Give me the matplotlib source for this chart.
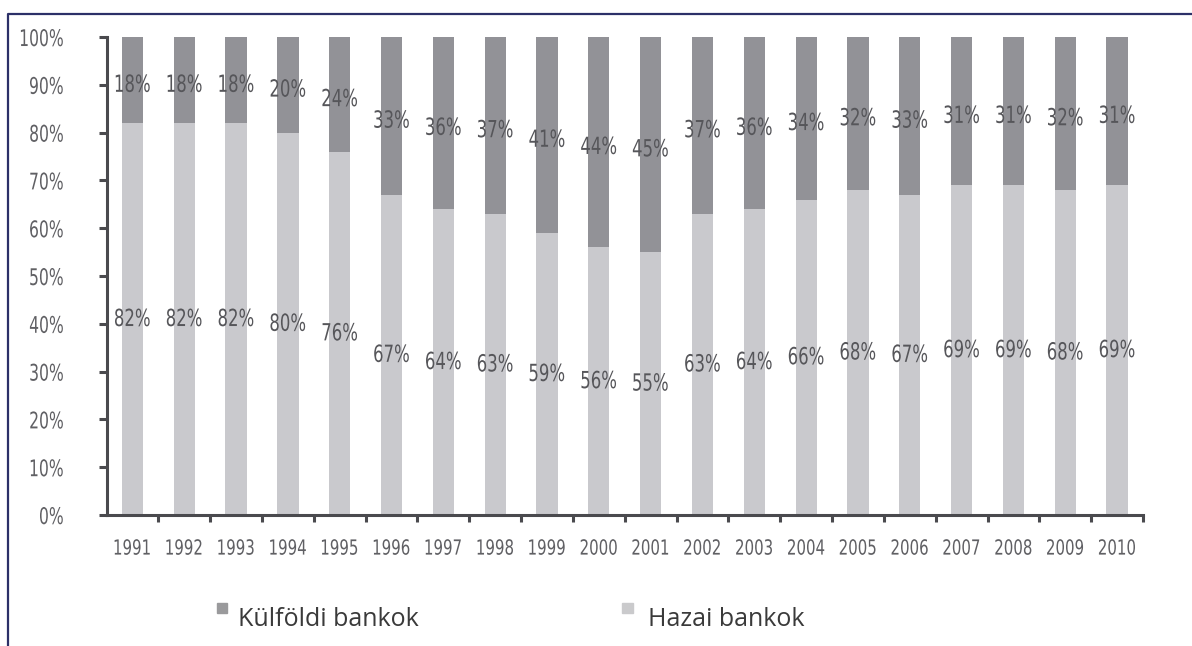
import matplotlib.pyplot as plt
from matplotlib.patches import Rectangle
from matplotlib.patheffects import AbstractPathEffect
from matplotlib.transforms import Affine2D

years = ['1991', '1992', '1993', '1994', '1995', '1996', '1997', '1998', '1999', '2000',
         '2001', '2002', '2003', '2004', '2005', '2006', '2007', '2008', '2009', '2010']
kulfoldi = [18, 18, 18, 20, 24, 33, 36, 37, 41, 44, 45, 37, 36, 34, 32, 33, 31, 31, 32, 31]
hazai = [82, 82, 82, 80, 76, 67, 64, 63, 59, 56, 55, 63, 64, 66, 68, 67, 69, 69, 68, 69]
y_ticks = [0, 10, 20, 30, 40, 50, 60, 70, 80, 90, 100]

dark = '#929297'
light = '#c9c9cd'
label_col = '#56565a'
tick_col = '#606064'


class Squeeze(AbstractPathEffect):
    """Narrows the glyphs horizontally to get a condensed look."""

    def __init__(self, sx, anchor='center'):
        super().__init__()
        self.sx = sx
        self.anchor = anchor

    def draw_path(self, renderer, gc, tpath, affine, rgbFace=None):
        if len(tpath.vertices):
            xs = affine.transform(tpath.vertices)[:, 0]
            if self.anchor == 'right':
                cx = xs.max()
            else:
                cx = (xs.min() + xs.max()) / 2
            affine = affine + Affine2D().translate(-cx, 0).scale(self.sx, 1).translate(cx, 0)
        renderer.draw_path(gc, tpath, affine, rgbFace)


fig = plt.figure(figsize=(11.92, 6.46), dpi=100)
ax = fig.add_axes([0.0898, 0.2028, 0.8691, 0.7399])

x = list(range(len(years)))
ax.bar(x, hazai, width=0.41, color=light, zorder=2)
ax.bar(x, kulfoldi, width=0.41, bottom=hazai, color=dark, zorder=2)

# value labels in the middle of each segment
for i in x:
    ax.text(i, hazai[i] / 2, f'{hazai[i]}%', ha='center', va='center',
            fontsize=17, color=label_col, zorder=3, path_effects=[Squeeze(0.7)])
    ax.text(i, hazai[i] + kulfoldi[i] / 2 - 1, f'{kulfoldi[i]}%', ha='center', va='center',
            fontsize=17, color=label_col, zorder=3, path_effects=[Squeeze(0.7)])

ax.set_xlim(-0.49, 19.5)
ax.set_ylim(0, 100)

for s in ['top', 'right']:
    ax.spines[s].set_visible(False)
for s in ['left', 'bottom']:
    ax.spines[s].set_color('#4a4a4e')
    ax.spines[s].set_linewidth(2.2)

ax.set_yticks(y_ticks)
ax.set_yticklabels([f'{v}%' for v in y_ticks], fontsize=16.5, color=tick_col)
ax.tick_params(axis='y', length=6, width=2.2, color='#4a4a4e', pad=25)
for lab in ax.get_yticklabels():
    lab.set_path_effects([Squeeze(0.68, anchor='right')])

ax.set_xticks(x)
ax.set_xticklabels(years, fontsize=15, color=tick_col)
ax.tick_params(axis='x', which='major', length=0, pad=17)
ax.set_xticks([i + 0.5 for i in x], minor=True)
ax.tick_params(axis='x', which='minor', length=5, width=2.2, color='#4a4a4e')
for lab in ax.get_xticklabels():
    lab.set_path_effects([Squeeze(0.72)])

# legend drawn as two separate entries along the bottom
fig.patches.append(Rectangle((217 / 1192, 1 - 613 / 646), 10 / 1192, 10 / 646,
                             transform=fig.transFigure, color='#9a9a9c'))
fig.text(238 / 1192, 1 - 620 / 646, 'Külföldi bankok', ha='left', va='center',
         fontsize=18, color='#3a3a3a', family='Open Sans')
fig.patches.append(Rectangle((622 / 1192, 1 - 613 / 646), 11 / 1192, 10 / 646,
                             transform=fig.transFigure, color='#cacacc'))
fig.text(648 / 1192, 1 - 620 / 646, 'Hazai bankok', ha='left', va='center',
         fontsize=18, color='#3a3a3a', family='Open Sans')

# frame line along the top and left edges
fig.add_artist(plt.Line2D([8 / 1192, 8 / 1192, 1.0], [0.0, 1 - 14 / 646, 1 - 14 / 646],
                          transform=fig.transFigure, color='#2c3068', linewidth=1.6))

plt.savefig('out.png', dpi=100)
